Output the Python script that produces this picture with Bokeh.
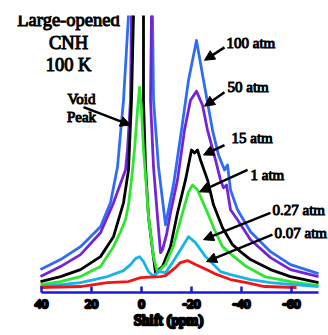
from bokeh.plotting import figure
from bokeh.models import Range1d, FixedTicker, Label, Arrow, NormalHead
from bokeh.embed import file_html
from bokeh.resources import INLINE

# ---- data (shift in ppm, intensity in arbitrary units) ----
shift_100 = [40.4, 32.4, 24.4, 16.4, 12.4, 9.6, 7.2, 5.2, 0.4, -4.4, -4.8, -6.8, -8.4, -9.6, -10.8, -12.8, -16.0, -18.8, -22.0, -24.8, -28.4, -30.8, -33.2, -34.4, -35.6, -38.4, -43.6, -51.6, -59.6, -70.8]
int_100 = [23, 33, 46, 66, 90, 126, 193, 278, 900, 278, 193, 126, 93, 68, 83, 108, 163, 213, 253, 213, 163, 138, 123, 128, 103, 83, 61, 41, 28, 19]

shift_50 = [40.4, 32.4, 24.4, 16.4, 11.2, 6.4, 5.6, 4.4, 4.0, 0.6, -4.0, -3.6, -4.8, -6.4, -7.6, -8.4, -10.0, -11.6, -14.4, -17.2, -19.6, -22.0, -24.4, -26.4, -29.6, -31.6, -32.8, -34.0, -35.6, -38.4, -43.6, -51.6, -59.6, -70.8]
int_50 = [16, 26, 38, 60, 90, 123, 143, 193, 278, 900, 278, 193, 126, 76, 40, 43, 58, 80, 113, 163, 193, 202, 188, 163, 133, 113, 105, 108, 83, 73, 53, 35, 23, 16]

shift_15 = [40.4, 32.4, 24.4, 16.4, 11.2, 7.2, 5.2, 4.0, 3.2, 1.2, -0.8, -0.8, -1.6, -2.8, -4.4, -5.6, -8.4, -11.6, -14.4, -17.6, -20.0, -21.2, -22.4, -23.6, -26.4, -28.8, -32.4, -36.4, -39.6, -43.6, -51.6, -59.6, -70.8]
int_15 = [11, 16, 23, 36, 56, 90, 123, 193, 278, 900, 278, 193, 126, 76, 43, 20, 26, 46, 80, 113, 143, 140, 143, 133, 113, 88, 65, 48, 41, 33, 23, 16, 10]

shift_1 = [40.4, 32.4, 24.4, 16.4, 11.2, 8.4, 6.4, 5.2, 4.0, 2.8, 1.6, 0.8, 0.0, -0.8, -1.6, -2.8, -4.8, -6.4, -9.6, -12.8, -16.4, -18.8, -20.4, -22.4, -26.4, -29.2, -32.4, -36.0, -42.0, -49.2, -59.6, -70.8]
int_1 = [8, 11, 16, 26, 46, 61, 73, 88, 113, 143, 183, 206, 183, 143, 118, 76, 36, 20, 28, 47, 80, 101, 108, 103, 80, 63, 46, 38, 26, 16, 11, 7]

shift_027 = [40.4, 24.4, 13.6, 7.2, 4.4, 2.4, 0.8, -0.8, -2.8, -4.8, -6.8, -9.6, -12.4, -15.6, -18.8, -21.6, -25.6, -31.6, -35.6, -43.6, -51.6, -70.8]
int_027 = [6, 10, 16, 22, 28, 34, 36, 31, 21, 16, 21, 20, 30, 43, 56, 50, 36, 21, 18, 13, 10, 6]

shift_007 = [40.4, 24.4, 13.6, 5.2, 0.4, -7.6, -9.6, -13.6, -15.6, -18.4, -21.6, -26.8, -29.2, -35.6, -42.0, -49.2, -62.0]
int_007 = [5, 6, 10, 11, 15, 16, 17, 25, 30, 32, 28, 22, 19, 13, 10, 6, 5]

tick_values = [40, 20, 0, -20, -40, -60]
tick_labels = ["40", "20", "0", "-20", "-40", "-60"]

series = [
    (shift_100, int_100, "#2f6cf6"),
    (shift_50, int_50, "#7424d8"),
    (shift_15, int_15, "#000000"),
    (shift_1, int_1, "#2ee62e"),
    (shift_027, int_027, "#16b4e8"),
    (shift_007, int_007, "#f21414"),
]

SERIF = "Liberation Serif"

p = figure(width=328, height=335, output_backend="svg", toolbar_location=None,
           x_range=Range1d(53.2, -74.8), y_range=Range1d(0, 278),
           min_border_left=8, min_border_right=0, min_border_top=15, min_border_bottom=43)
p.outline_line_color = None
p.xgrid.visible = False
p.ygrid.visible = False
p.yaxis.visible = False
p.background_fill_color = "white"
p.border_fill_color = "white"

for xs, ys, c in series:
    p.line(xs, ys, line_color=c, line_width=2.8, line_join="round")

ax = p.xaxis[0]
ax.bounds = (-70.8, 40)
ax.ticker = FixedTicker(ticks=tick_values)
ax.major_label_overrides = {v: s for v, s in zip(tick_values, tick_labels)}
ax.axis_line_color = "#1a1ad0"
ax.axis_line_width = 2.5
ax.major_tick_line_color = "#1a1ad0"
ax.major_tick_line_width = 2.5
ax.major_tick_in = 6
ax.major_tick_out = 0
ax.minor_tick_line_color = None
ax.major_label_text_font = SERIF
ax.major_label_text_font_style = "normal"
ax.major_label_text_font_size = "13.5px"
ax.major_label_text_color = "black"
ax.major_label_standoff = 7
ax.axis_label = "Shift (ppm)"
ax.axis_label_text_font = SERIF
ax.axis_label_text_font_style = "normal"
ax.axis_label_text_font_size = "15px"
ax.axis_label_text_color = "black"
ax.axis_label_standoff = 1

ax_props = ax.properties()
if "major_label_text_outline_color" in ax_props:
    ax.major_label_text_outline_color = "black"
if "axis_label_text_outline_color" in ax_props:
    ax.axis_label_text_outline_color = "black"

HAS_OUTLINE = "text_outline_color" in Label.properties()


def txt(x, y, s, size, align="left"):
    kw = dict(x=x, y=y, text=s, text_font=SERIF, text_font_style="normal",
              text_font_size=size, text_align=align, text_baseline="middle",
              text_color="black")
    if HAS_OUTLINE:
        p.add_layout(Label(text_outline_color="black", **kw))
    else:
        p.add_layout(Label(**kw))
        p.add_layout(Label(x_offset=0.8, **kw))


txt(29.2, 273, "Large-opened", "18.5px", "center")
txt(29.2, 250, "CNH", "18.5px", "center")
txt(29.2, 228, "100 K", "18.5px", "center")
txt(24.0, 194, "Void", "15px", "center")
txt(24.0, 176, "Peak", "15px", "center")

txt(-34.0, 250, "100 atm", "15px")
txt(-34.4, 206, "50 atm", "15px")
txt(-36.0, 155, "15 atm", "15px")
txt(-43.6, 118, "1 atm", "15px")
txt(-52.4, 83, "0.27 atm", "15px")
txt(-53.2, 60, "0.07 atm", "15px")

arrows = [
    (23.2, 186, 4.4, 168),
    (-33.2, 246, -25.2, 233),
    (-33.2, 201, -25.2, 187),
    (-33.2, 148, -24.8, 138),
    (-42.4, 123, -23.2, 101),
    (-51.6, 80, -24.8, 53),
    (-52.4, 58, -26.0, 31),
]
for x0, y0, x1, y1 in arrows:
    p.add_layout(Arrow(x_start=x0, y_start=y0, x_end=x1, y_end=y1, line_width=2.5, line_color="black",
                       end=NormalHead(size=10, fill_color="black", line_color="black", line_width=1)))

open("out.html", "w").write(file_html(p, INLINE))
